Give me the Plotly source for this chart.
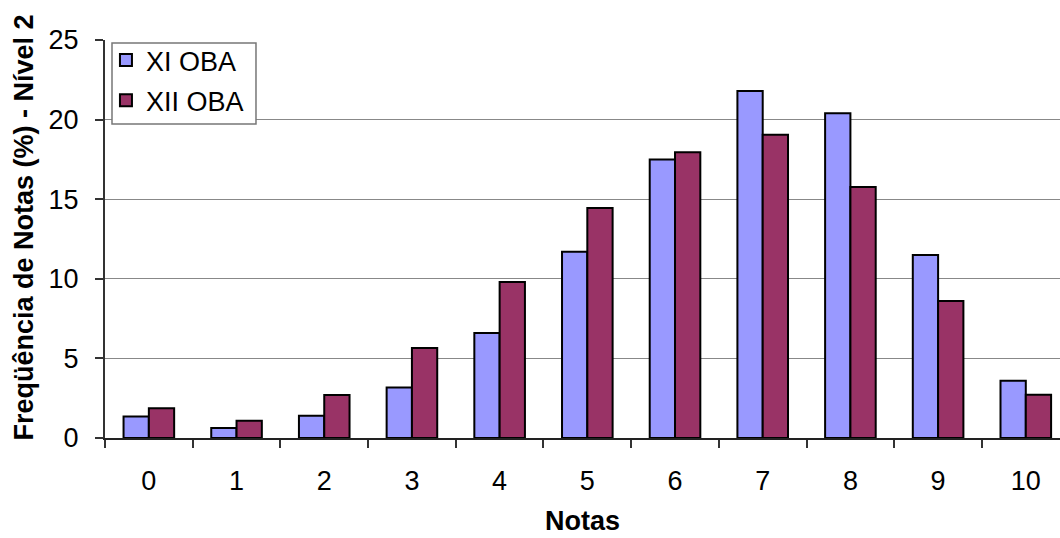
import plotly.graph_objects as go

categories = ["0", "1", "2", "3", "4", "5", "6", "7", "8", "9", "10"]
xi_oba = [1.35, 0.63, 1.4, 3.17, 6.6, 11.7, 17.5, 21.8, 20.4, 11.5, 3.6]
xii_oba = [1.87, 1.09, 2.7, 5.65, 9.8, 14.45, 17.95, 19.05, 15.77, 8.6, 2.72]
y_ticks = [0, 5, 10, 15, 20, 25]

FONT = "Liberation Sans, Arial, sans-serif"

fig = go.Figure()
fig.add_trace(go.Bar(x=categories, y=xi_oba, name="XI OBA", legendgroup="a",
                     marker=dict(color="#9999FF", line=dict(color="black", width=2))))
fig.add_trace(go.Bar(x=categories, y=xii_oba, name="XII OBA", legendgroup="b",
                     marker=dict(color="#993366", line=dict(color="black", width=2))))

fig.update_layout(
    width=1060, height=538,
    margin=dict(l=105, r=0, t=40, b=100),
    paper_bgcolor="white", plot_bgcolor="white",
    font=dict(family=FONT, size=27, color="black"),
    barmode="group", bargap=0.423, bargroupgap=0,
    showlegend=True,
    legend=dict(x=0.001, y=1.010, xanchor="left", yanchor="top",
                borderwidth=0, bgcolor="rgba(0,0,0,0)",
                font=dict(size=27), traceorder="grouped", tracegroupgap=2,
                itemwidth=30),
    shapes=[dict(type="rect", xref="paper", yref="paper",
                 x0=0.00733, x1=0.1581, y0=0.789, y1=0.9925,
                 line=dict(color="#777777", width=1.5), fillcolor="white",
                 layer="above")],
    xaxis=dict(type="category", range=[-0.5, 10.39], tickson="boundaries",
               ticks="outside", ticklen=8, tickcolor="#333333", tickwidth=1.5,
               ticklabelstandoff=18, automargin=False,
               showline=True, linecolor="#222222", linewidth=2,
               showgrid=False,
               title=dict(text="<b>Notas</b>", font=dict(size=27), standoff=16)),
    yaxis=dict(range=[0, 25], tickvals=y_ticks, ticks="outside", ticklen=8,
               tickcolor="#333333", tickwidth=1.5, ticklabelstandoff=11,
               automargin=False,
               showline=True, linecolor="#333333", linewidth=2,
               showgrid=True, gridcolor="#888888", gridwidth=1.2,
               zeroline=False),
    annotations=[dict(text="<b>Freqüência de Notas (%) - Nível 2</b>",
                      textangle=-90, xref="paper", yref="paper",
                      x=-0.0848, y=0.529, xanchor="center", yanchor="middle",
                      showarrow=False, font=dict(size=27))],
)

fig.write_html("out.html", config={"displayModeBar": False},
               post_script="document.body.style.margin='0';")
